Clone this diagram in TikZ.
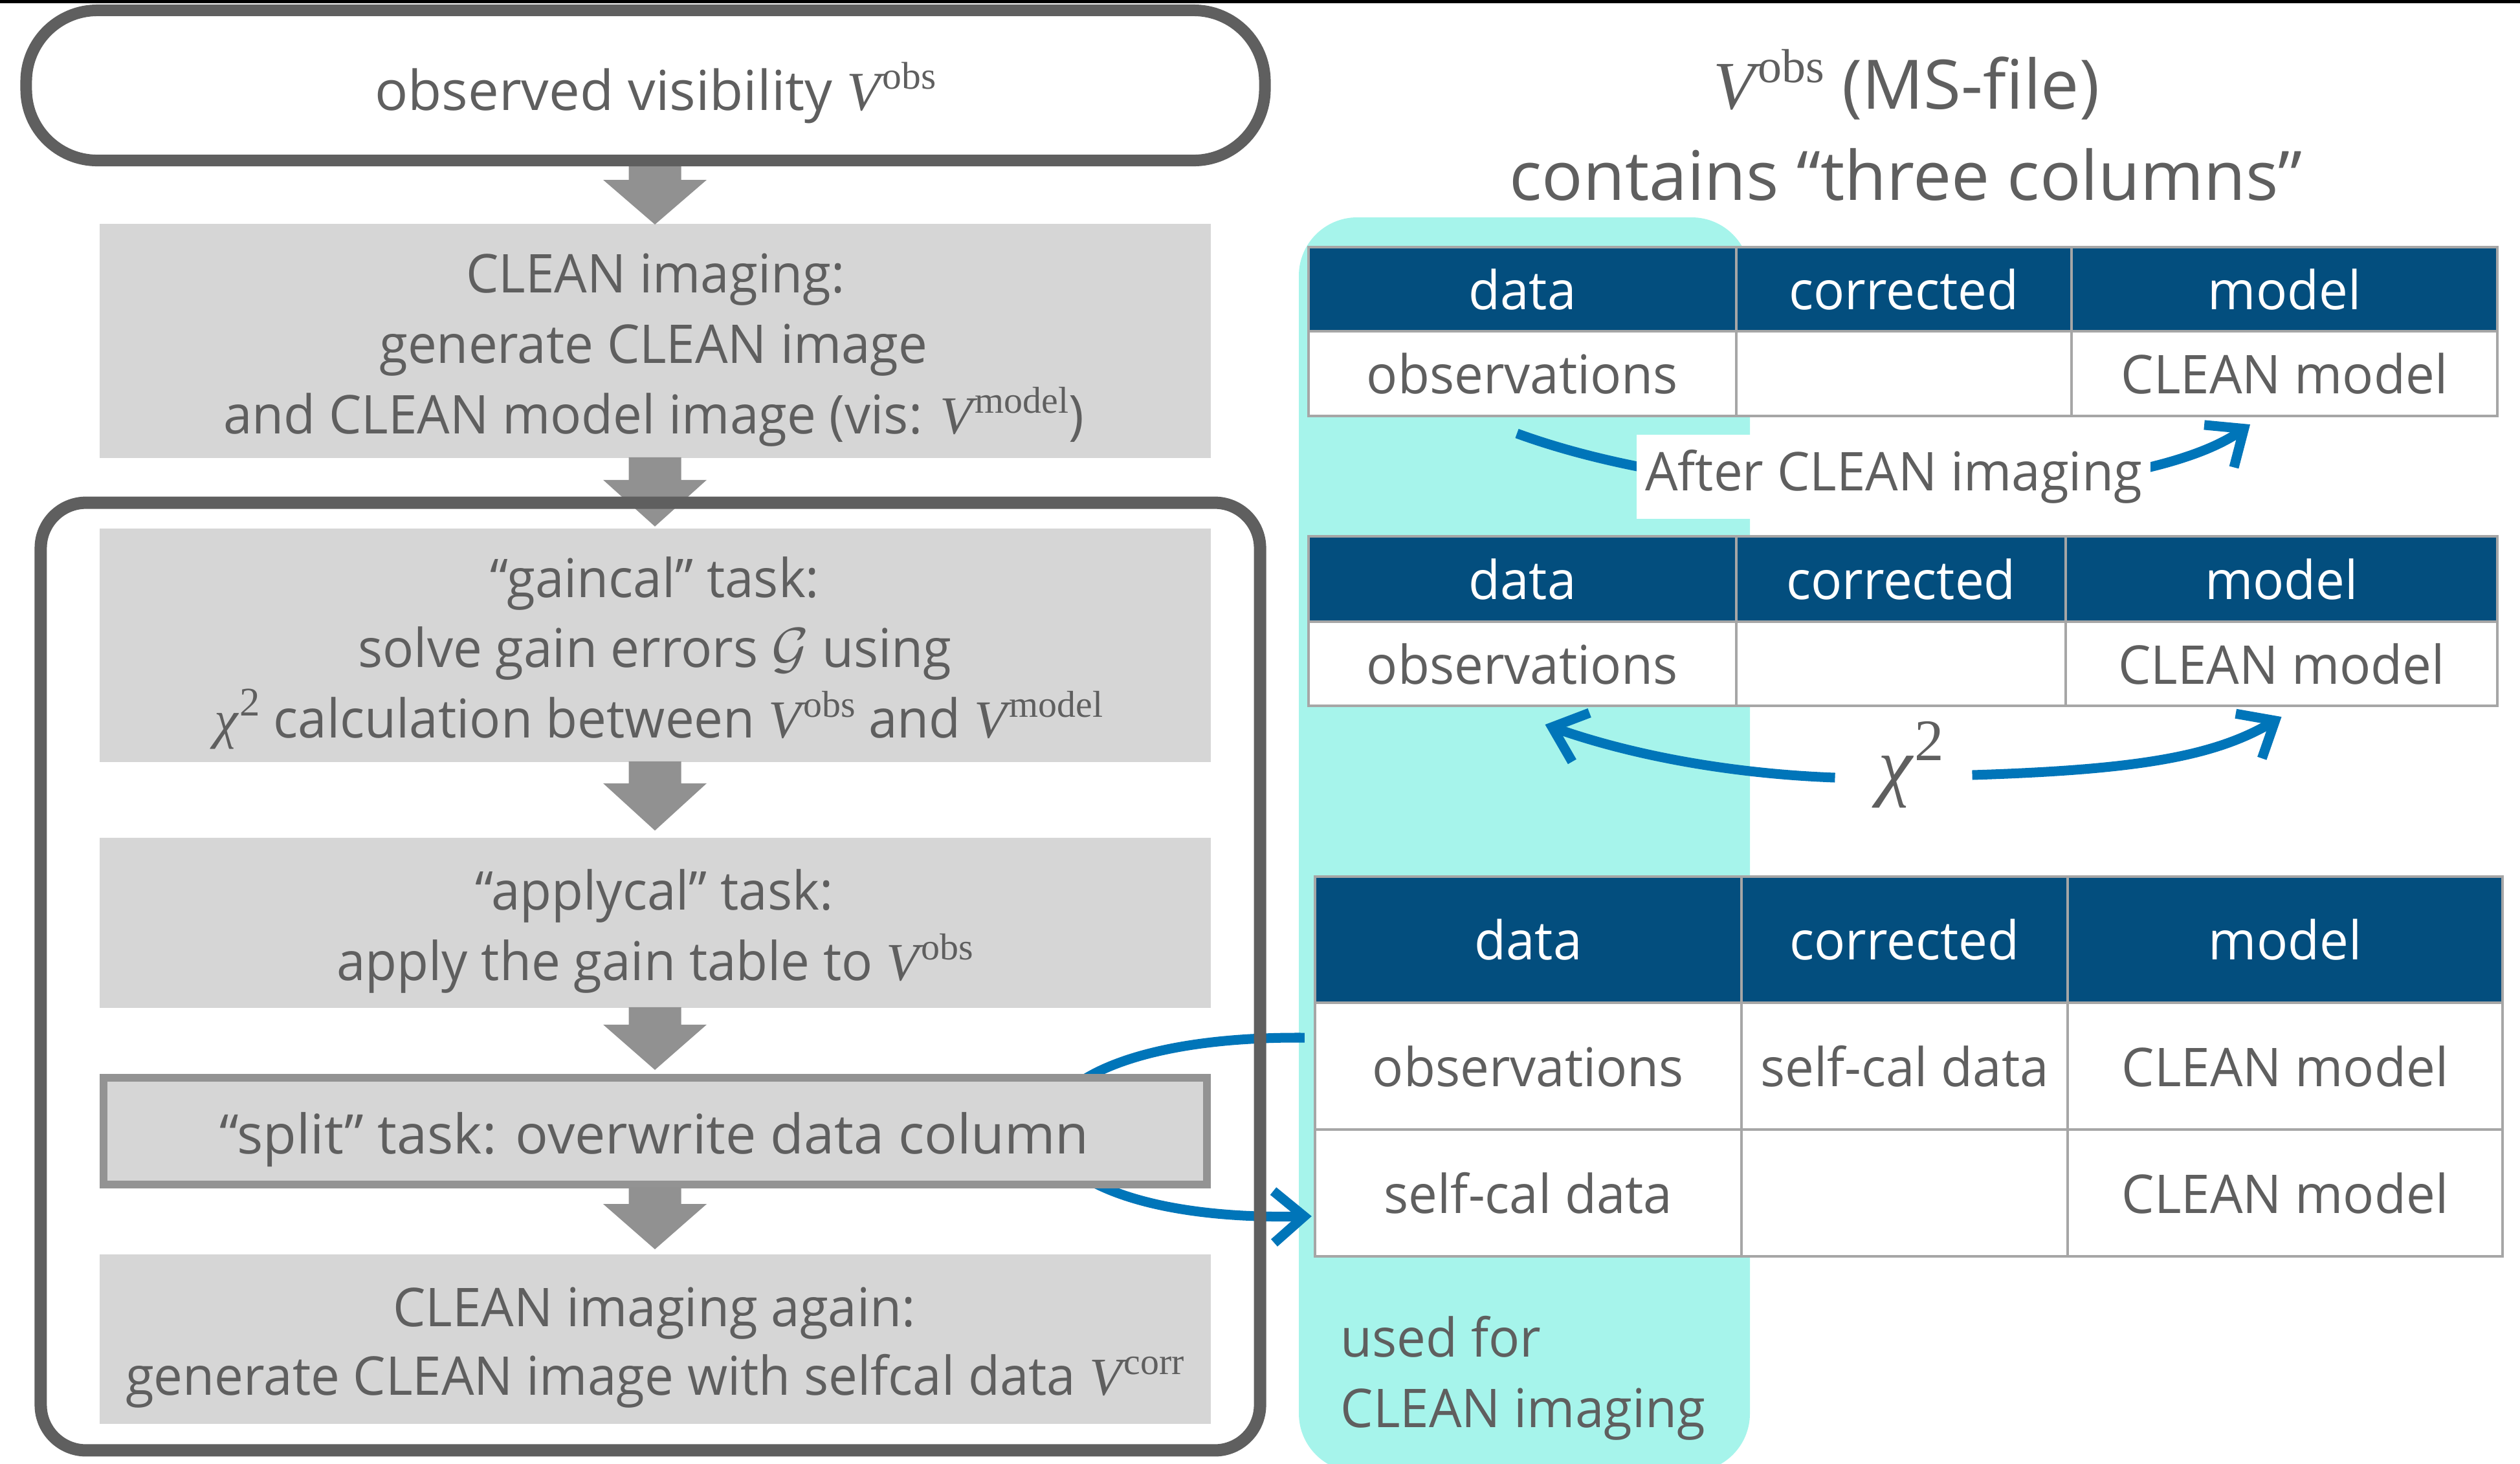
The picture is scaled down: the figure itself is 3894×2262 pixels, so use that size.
\documentclass[tikz,border=0pt]{standalone}
\usepackage{fontspec}
\usepackage{graphicx}
\setmainfont{Open Sans}[FakeStretch=0.967]
\newfontfamily\osplain{Open Sans}
\newfontfamily\tms{Liberation Serif}
\usetikzlibrary{arrows.meta,calc}
\definecolor{tgray}{HTML}{5F5F5F}
\definecolor{bordergray}{HTML}{5F5F5F}
\definecolor{boxgray}{HTML}{D6D6D6}
\definecolor{arrgray}{HTML}{919191}
\definecolor{splitgray}{HTML}{939393}
\definecolor{tealbg}{HTML}{A6F4EB}
\definecolor{headblue}{HTML}{034E7E}
\definecolor{arrblue}{HTML}{0075B9}
\definecolor{cellline}{HTML}{A6A6A6}
\newcommand\fsmain{\fontsize{23.5}{31}\selectfont}
\newcommand\fstop{\osplain\fontsize{24.2}{31}\selectfont}
\newcommand\fssplit{\osplain\fontsize{24}{31}\selectfont}
\newcommand\fsbig{\osplain\fontsize{30}{36}\selectfont}
\newcommand\fschi{\fontsize{34}{40}\selectfont}
\newcommand\Vx[1]{{\tms\itshape V}\kern0.04em\raisebox{0.38em}{\scalebox{0.7}{\tms #1}}}
\newcommand\chiSq{{\tms\itshape χ}\kern0.03em\raisebox{0.40em}{\scalebox{0.76}{\tms 2}}}
\tikzset{
  pics/darr/.style args={#1/#2}{code={\fill[arrgray] (-40.5,-2) -- (40.5,-2) -- (40.5,#1) -- (80,#1) -- (0,#2) -- (-80,#1) -- (-40.5,#1) -- cycle;}},
  graybox/.style={fill=boxgray, draw=none, inner sep=0, minimum width=17.16cm},
  t/.style={text=tgray, font=\fsmain, inner sep=0, anchor=base},
  cell/.style={draw=cellline, line width=0.04cm, inner sep=0, text=tgray, font=\fsmain, fill=white},
  hcell/.style={cell, fill=headblue, text=white},
  barrow/.style={draw=arrblue, line width=0.15cm, -{Straight Barb[length=0.47cm, width=0.8cm]}},
}
\begin{document}
\begin{tikzpicture}[x=0.01cm, y=-0.01cm]
\useasboundingbox (0,0) rectangle (3894,2262);
\fill[black] (0,0) rectangle (3894,5);

% teal background column
\fill[tealbg, rounded corners=0.9cm] (2007,336) rectangle (2704,2275);

% table 1
\node[hcell, minimum width=6.61cm, minimum height=1.30cm] (t1h1) at (2352.5,447) {data};
\node[hcell, minimum width=5.18cm, minimum height=1.30cm] (t1h2) at (2942,447) {corrected};
\node[hcell, minimum width=6.58cm, minimum height=1.30cm] (t1h3) at (3530,447) {model};
\node[cell, minimum width=6.61cm, minimum height=1.31cm] (t1r1) at (2352.5,577.5) {observations};
\node[cell, minimum width=5.18cm, minimum height=1.31cm] (t1r2) at (2942,577.5) {};
\node[cell, minimum width=6.58cm, minimum height=1.31cm] (t1r3) at (3530,577.5) {CLEAN model};

% table 2
\node[hcell, minimum width=6.61cm, minimum height=1.32cm] (t2h1) at (2352.5,895) {data};
\node[hcell, minimum width=5.09cm, minimum height=1.32cm] (t2h2) at (2937.5,895) {corrected};
\node[hcell, minimum width=6.67cm, minimum height=1.32cm] (t2h3) at (3525.5,895) {model};
\node[cell, minimum width=6.61cm, minimum height=1.30cm] (t2r1) at (2352.5,1026) {observations};
\node[cell, minimum width=5.09cm, minimum height=1.30cm] (t2r2) at (2937.5,1026) {};
\node[cell, minimum width=6.67cm, minimum height=1.30cm] (t2r3) at (3525.5,1026) {CLEAN model};

% table 3
\node[hcell, minimum width=6.59cm, minimum height=1.95cm] (t3h1) at (2361.5,1452.5) {data};
\node[hcell, minimum width=5.04cm, minimum height=1.95cm] (t3h2) at (2943,1452.5) {corrected};
\node[hcell, minimum width=6.72cm, minimum height=1.95cm] (t3h3) at (3531,1452.5) {model};
\node[cell, minimum width=6.59cm, minimum height=1.96cm] (t3r1) at (2361.5,1648) {observations};
\node[cell, minimum width=5.04cm, minimum height=1.96cm] (t3r2m) at (2943,1648) {self-cal data};
\node[cell, minimum width=6.72cm, minimum height=1.96cm] (t3r3) at (3531,1648) {CLEAN model};
\node[cell, minimum width=6.59cm, minimum height=1.96cm] (t3r2) at (2361.5,1844) {self-cal data};
\node[cell, minimum width=5.04cm, minimum height=1.96cm] (t3s2) at (2943,1844) {};
\node[cell, minimum width=6.72cm, minimum height=1.96cm] (t3s3) at (3531,1844) {CLEAN model};

% titles on the right
\node[t, font=\fsbig] (title1) at (2946,168) {\Vx{obs} (MS-file)};
\node[t, font=\fsbig] (title2) at (2945,309) {contains “three columns”};
\node[t, anchor=base west] (used1) at (2071,2097) {used for};
\node[t, anchor=base west] (used2) at (2071,2206) {CLEAN imaging};

% after CLEAN imaging arrow
\draw[barrow] ($(t1r1.south)+(-8.5,25)$) .. controls (2700,800) and (3300,780) .. ($(t1r3.south)+(-53,11)$);
\node[fill=white, text=tgray, font=\fsmain, inner xsep=0.13cm, inner ysep=0cm, minimum height=1.3cm] (after) at (2926,737) {After CLEAN imaging};

% chi^2 arrows
\node[text=tgray, font=\fschi, inner sep=0] (chi) at (2953,1182) {\chiSq};
\draw[barrow] ($(chi.west)+(-66,20)$) .. controls (2650,1195) and (2500,1160) .. ($(t2r1.south)+(35,27)$);
\draw[barrow] ($(chi.east)+(43,16)$) .. controls (3300,1190) and (3420,1170) .. ($(t2r3.south)+(0,15)$);

% left column boxes
\node[graybox, minimum height=3.62cm] (clean) at (1012,527) {};
\node[graybox, minimum height=3.61cm] (gaincal) at (1012,997.5) {};
\node[graybox, minimum height=2.63cm] (applycal) at (1012,1426.5) {};
\node[graybox, minimum height=2.62cm] (final) at (1012,2070) {};

% block arrows
\pic at (1012,257) {darr=21/90};
\pic at (clean.south) {darr=33/105};
\pic at (gaincal.south) {darr=32/105};
\pic at (applycal.south) {darr=25/95};

% split loop arrow (behind split box)
\draw[barrow] ($(t3r1.west)+(-14,-44)$) .. controls (1485,1600) and (1495,1890) .. ($(t3r2.west)+(-3,36)$);

\node[fill=boxgray, draw=splitgray, line width=0.12cm, minimum width=17.04cm, minimum height=1.65cm, inner sep=0] (split) at (1012,1748.5) {};
\pic at (split.south) {darr=24/94};

% outer loop frame and top box
\node[draw=bordergray, line width=0.19cm, rounded corners=0.7cm, minimum width=18.83cm, minimum height=14.64cm, inner sep=0] (loop) at (1005,1509.5) {};
\node[draw=bordergray, line width=0.18cm, rounded corners=1.1cm, minimum width=19.13cm, minimum height=2.32cm, inner sep=0] (obs) at (997.5,132) {};

% texts of the left column
\node[t, font=\fstop] (l0) at (1013,170) {observed visibility \Vx{obs}};
\node[t] (l1) at (1013,452) {CLEAN imaging:};
\node[t] (l2) at (1010,561) {generate CLEAN image};
\node[t] (l3) at (1010,670) {and CLEAN model image (vis: \Vx{model})};
\node[t] (g1) at (1012,923) {“gaincal” task:};
\node[t] (g2) at (1012,1031) {solve gain errors $\mathcal{G}$ using};
\node[t] (g3) at (1018,1140) {\chiSq{} calculation between \Vx{obs} and \Vx{model}};
\node[t] (a1) at (1011,1406) {“applycal” task:};
\node[t] (a2) at (1012,1515) {apply the gain table to \Vx{obs}};
\node[t, font=\fssplit] (s1) at (1011,1783) {“split” task: overwrite data column};
\node[t] (f1) at (1011,2050) {CLEAN imaging again:};
\node[t] (f2) at (1012,2156) {generate CLEAN image with selfcal data \Vx{corr}};
\end{tikzpicture}
\end{document}
